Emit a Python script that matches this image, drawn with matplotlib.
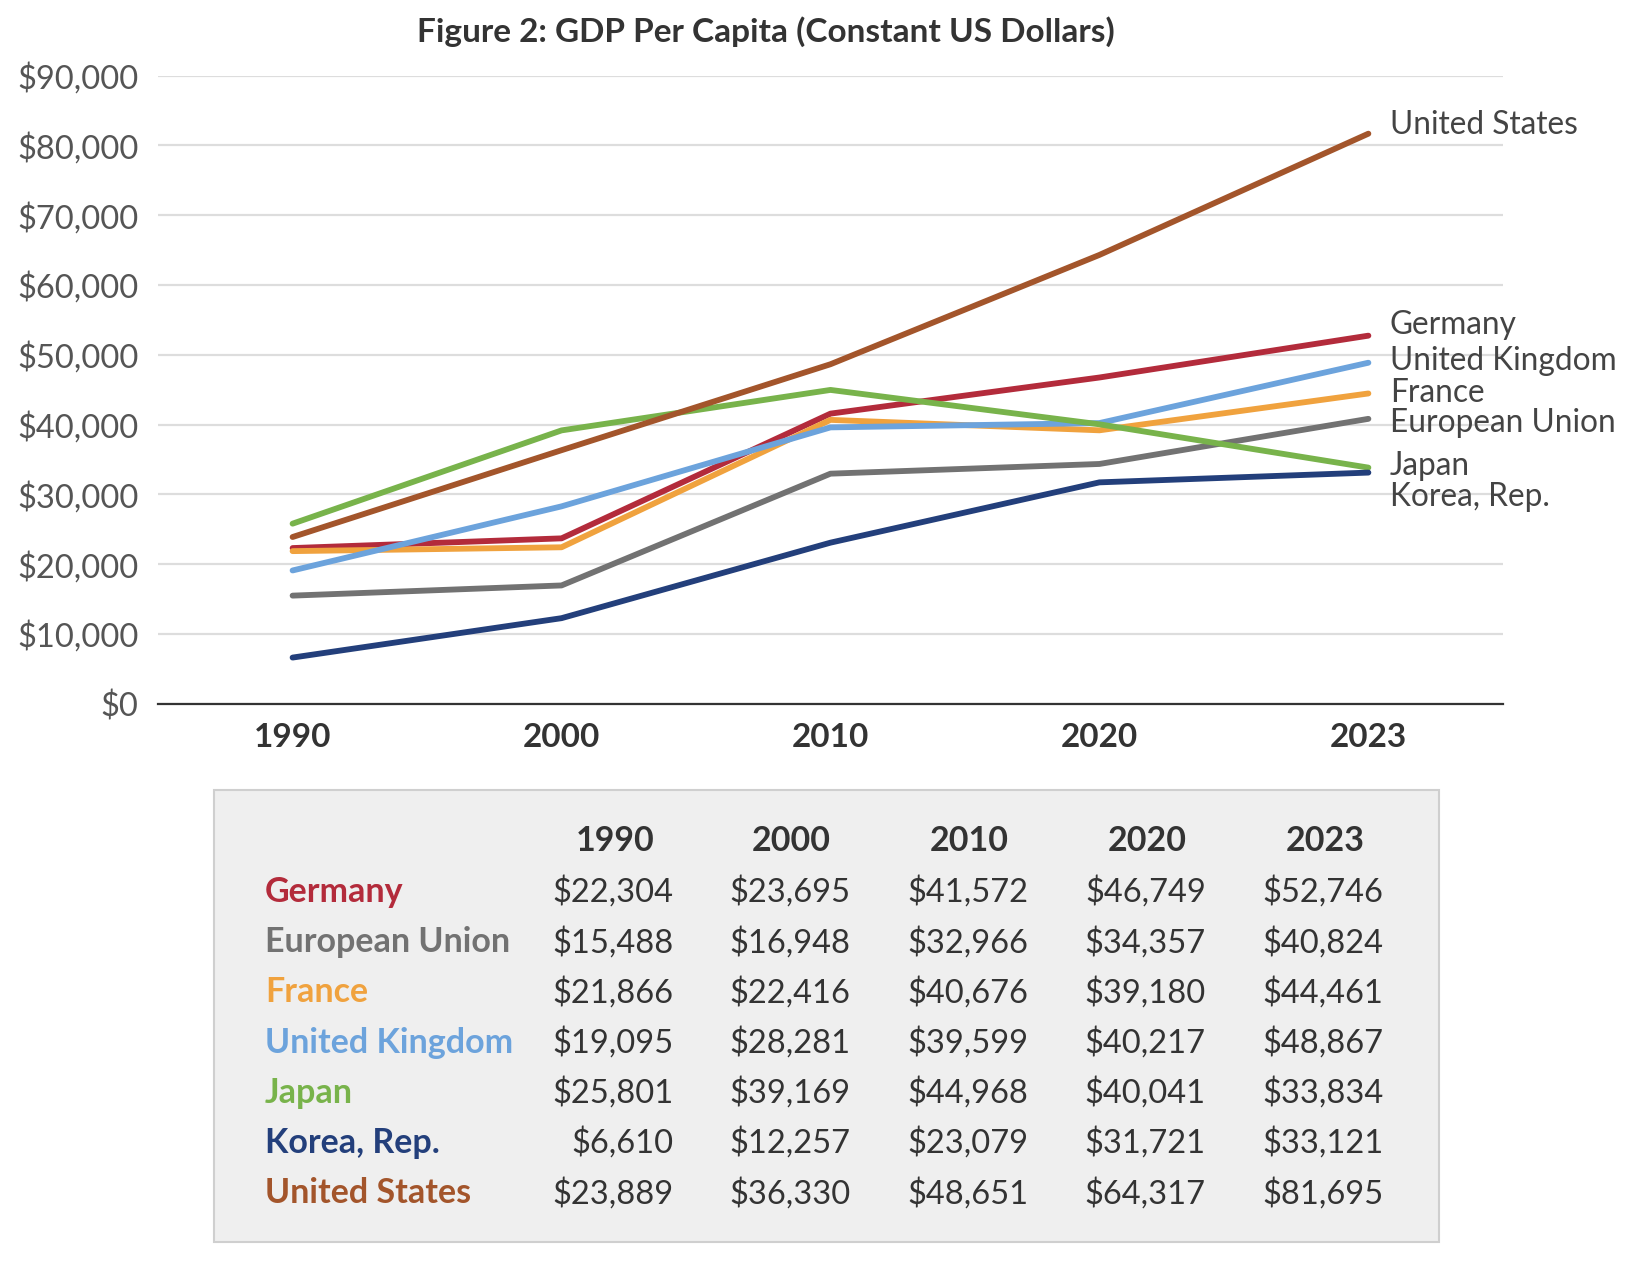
import matplotlib.pyplot as plt
from matplotlib.patches import Rectangle

years = ['1990', '2000', '2010', '2020', '2023']
countries = ['Germany', 'European Union', 'France', 'United Kingdom', 'Japan', 'Korea, Rep.', 'United States']
germany = [22304, 23695, 41572, 46749, 52746]
eu = [15488, 16948, 32966, 34357, 40824]
france = [21866, 22416, 40676, 39180, 44461]
uk = [19095, 28281, 39599, 40217, 48867]
japan = [25801, 39169, 44968, 40041, 33834]
korea = [6610, 12257, 23079, 31721, 33121]
usa = [23889, 36330, 48651, 64317, 81695]
series = [germany, eu, france, uk, japan, korea, usa]
colors = ['#b32b3b', '#727272', '#f0a23e', '#6ca3dc', '#78b34b', '#233f7b', '#a3552b']

# vertical nudges for the end labels so they don't collide
label_shift = {'Germany': 1500, 'European Union': -600, 'France': 100, 'United Kingdom': 300,
               'Japan': 300, 'Korea, Rep.': -3500, 'United States': 1200}

plt.rcParams['font.family'] = ['Lato', 'DejaVu Sans']

fig = plt.figure(figsize=(16.3, 12.62), dpi=100)
ax = fig.add_axes([0.097, 0.4424, 0.825, 0.4976])

x = list(range(len(years)))
for name, vals, c in zip(countries, series, colors):
    ax.plot(x, vals, color=c, lw=4.2, solid_capstyle='round', zorder=3)
    ax.text(x[-1] + 0.08, vals[-1] + label_shift[name], name, fontsize=22.8,
            color='#444444', ha='left', va='center', zorder=4)

ax.set_xlim(-0.5, 4.5)
ax.set_ylim(0, 90000)
ax.set_yticks(range(0, 90001, 10000))
ax.set_yticklabels(['${:,}'.format(v) for v in range(0, 90001, 10000)])
ax.set_xticks(x)
ax.set_xticklabels(years, fontweight='bold')
ax.tick_params(axis='y', length=0, pad=14, labelsize=23.5, labelcolor='#555555')
ax.tick_params(axis='x', length=0, pad=14, labelsize=24, labelcolor='#333333')
ax.grid(axis='y', color='#dddddd', lw=1.6, zorder=0)
ax.set_axisbelow(True)
for s in ['top', 'right', 'left']:
    ax.spines[s].set_visible(False)
ax.spines['bottom'].set_color('#333333')
ax.spines['bottom'].set_linewidth(1.6)

fig.text(0.47, 0.975, 'Figure 2: GDP Per Capita (Constant US Dollars)', ha='center', va='center',
         fontsize=24, fontweight='bold', color='#333333')

# table panel
fig.patches.append(Rectangle((0.131, 0.016), 0.752, 0.358, transform=fig.transFigure,
                             facecolor='#efefef', edgecolor='#cfcfcf', lw=1.5, zorder=0))

col_right = [0.4133, 0.5217, 0.6307, 0.7398, 0.8488]
head_y = 1 - 841 / 1262
row_y0 = 1 - 892 / 1262
row_dy = 50.2 / 1262
name_x = 265 / 1630

for rx, yr in zip(col_right, years):
    fig.text(rx - 0.036, head_y, yr, ha='center', va='center', fontsize=24.5, fontweight='bold', color='#333333')

for i, (name, vals, c) in enumerate(zip(countries, series, colors)):
    ry = row_y0 - i * row_dy
    fig.text(name_x, ry, name, ha='left', va='center', fontsize=24.5, fontweight='bold', color=c)
    for rx, v in zip(col_right, vals):
        fig.text(rx, ry, '${:,}'.format(v), ha='right', va='center', fontsize=23.5, color='#333333')

fig.savefig('out.png', dpi=100)
